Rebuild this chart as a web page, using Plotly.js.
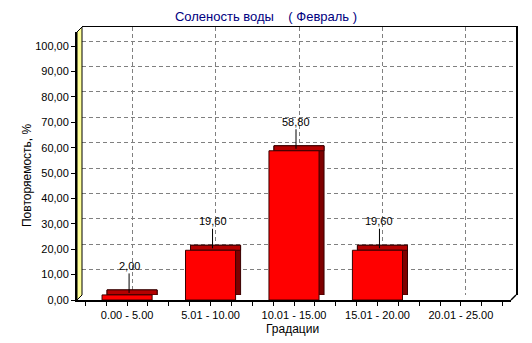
<!DOCTYPE html>
<html>
<head>
<meta charset="utf-8">
<script src="https://cdn.plot.ly/plotly-3.0.1.min.js"></script>
<style>html,body{margin:0;padding:0;background:#fff;}#chart{width:532px;height:343px;}</style>
</head>
<body>
<div id="chart"></div>
<script>
// ---- data ----
const categories = ['0.00 - 5.00', '5.01 - 10.00', '10.01 - 15.00', '15.01 - 20.00', '20.01 - 25.00'];
const values = [2.00, 19.60, 58.80, 19.60, 0.00];
const yTickValues = [0, 10, 20, 30, 40, 50, 60, 70, 80, 90, 100];
const titleText = 'Соленость воды\u00a0\u00a0\u00a0\u00a0( Февраль )';
const xTitleText = 'Градации';
const yTitleText = 'Повторяемость, %';

// ---- geometry (pixels) ----
const W = 532, H = 343;
const M = {l: 77, r: 16, t: 27, b: 43};
const pw = W - M.l - M.r;      // 439
const ph = H - M.t - M.b;      // 273
const depth = 5;               // 3D depth in px
const frontW = pw - depth, frontH = ph - depth;
const xRange = [-0.6, 4.6];
const yMax = 105.6;
const pxPerUnit = frontH / yMax;
const depthVal = depth / pxPerUnit;

const idx = categories.map((_, i) => i);
const quarterTicks = [];
const quarterText = [];
for (let k = -2; k <= 18; k++) {
  const v = k / 4;
  quarterTicks.push(v);
  quarterText.push(Number.isInteger(v) && v >= 0 && v < categories.length ? categories[v] : '');
}

const font = "'Liberation Sans', Arial, sans-serif";

const traces = [
  { // back (side) face
    type: 'bar', x: idx, y: values.map(v => v > 0 ? v : null), width: 0.6,
    xaxis: 'x', yaxis: 'y',
    marker: {color: '#7E0000', line: {color: '#3A0000', width: 1}},
    hoverinfo: 'skip'
  },
  { // top face
    type: 'bar', x: idx, y: values.map(v => v > 0 ? Math.min(depthVal, v) : null),
    base: values.map(v => v > 0 ? v - Math.min(depthVal, v) : null), width: 0.6,
    xaxis: 'x', yaxis: 'y',
    marker: {color: '#B40000', line: {color: '#3A0000', width: 1}},
    hoverinfo: 'skip'
  },
  { // front face
    type: 'bar', x: idx, y: values.map(v => v > 0 ? v : null), width: 0.6,
    xaxis: 'x2', yaxis: 'y2',
    marker: {color: '#FF0000', line: {color: '#3A0000', width: 1}}
  }
];

const annotations = values.map((v, i) => v > 0 ? {
  x: i, y: v, xref: 'x2', yref: 'y2',
  text: v.toFixed(2).replace('.', ','),
  showarrow: true, arrowhead: 0, arrowwidth: 1, arrowcolor: '#000',
  ax: 0, ay: -27, xshift: 2, yshift: 2,
  font: {family: font, size: 11, color: '#000'}
} : null).filter(a => a);

annotations.push({
  xref: 'paper', yref: 'paper',
  x: (292.5 - M.l) / pw, y: (M.t + ph - 329) / ph,
  xanchor: 'center', yanchor: 'middle', showarrow: false,
  text: xTitleText, font: {family: font, size: 12, color: '#000'}
});
annotations.push({
  xref: 'paper', yref: 'paper',
  x: (27 - M.l) / pw, y: (M.t + ph - 176) / ph,
  xanchor: 'center', yanchor: 'middle', showarrow: false, textangle: -90,
  text: yTitleText, font: {family: font, size: 12, color: '#000'}
});

const layout = {
  width: W, height: H, autosize: false,
  margin: M,
  paper_bgcolor: '#fff', plot_bgcolor: 'rgba(0,0,0,0)',
  separators: ', ',
  showlegend: false,
  barmode: 'overlay',
  font: {family: font, size: 11, color: '#000'},
  title: {
    text: titleText, x: 0.5, xref: 'container', xanchor: 'center',
    y: 1 - 16 / H, yanchor: 'middle',
    font: {family: font, size: 13, color: '#000080'}
  },
  // back plane
  xaxis: {
    domain: [depth / pw, 1], range: xRange, anchor: 'y', side: 'top',
    showline: true, linecolor: '#000', linewidth: 1.5,
    showgrid: true, gridcolor: '#808080', griddash: '4px,3px', gridwidth: 1,
    tickvals: idx, showticklabels: false, ticks: '', zeroline: false, fixedrange: true
  },
  yaxis: {
    domain: [depth / ph, 1], range: [0, yMax], anchor: 'x', side: 'right',
    showline: true, linecolor: '#000', linewidth: 1.5,
    showgrid: true, gridcolor: '#808080', griddash: '4px,3px', gridwidth: 1,
    tickvals: yTickValues, showticklabels: false, ticks: '', zeroline: false, fixedrange: true
  },
  // front plane
  xaxis2: {
    domain: [0, frontW / pw], range: xRange, anchor: 'y2', side: 'bottom',
    showline: true, linecolor: '#000', linewidth: 2,
    showgrid: false, zeroline: false,
    tickvals: quarterTicks, ticktext: quarterText,
    ticks: 'outside', ticklen: 4, tickcolor: '#000', tickwidth: 1,
    tickfont: {family: font, size: 11, color: '#000'}, fixedrange: true
  },
  yaxis2: {
    domain: [0, frontH / ph], range: [0, yMax], anchor: 'x2', side: 'left',
    showline: true, linecolor: '#000', linewidth: 2,
    showgrid: false, zeroline: false,
    tickvals: yTickValues, tickformat: '.2f',
    ticks: 'outside', ticklen: 4, tickcolor: '#000', tickwidth: 1,
    tickfont: {family: font, size: 11, color: '#000'}, fixedrange: true
  },
  shapes: [
    { // left wall
      type: 'path', xref: 'paper', yref: 'paper', layer: 'above',
      path: `M 0 0 L 0 ${frontH / ph} L ${depth / pw} 1 L ${depth / pw} ${depth / ph} Z`,
      fillcolor: '#FFFF99', line: {color: '#000', width: 1}
    },
    { // floor right edge
      type: 'line', xref: 'paper', yref: 'paper', layer: 'above',
      x0: frontW / pw, y0: 0, x1: 1, y1: depth / ph,
      line: {color: '#000', width: 1.5}
    }
  ],
  annotations: annotations
};

Plotly.newPlot('chart', traces, layout, {displayModeBar: false, staticPlot: true});
</script>
</body>
</html>
